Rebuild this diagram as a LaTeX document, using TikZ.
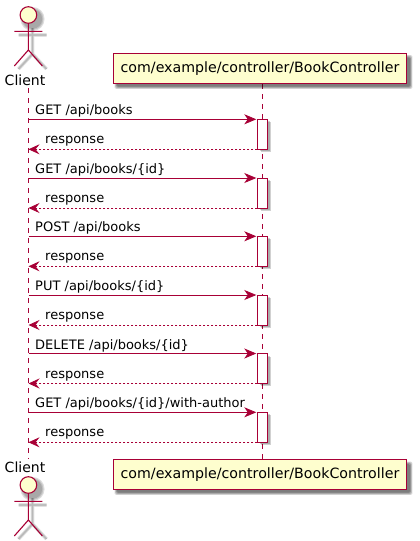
\documentclass[tikz,border=0pt]{standalone}
\usepackage{fontspec}
\setmainfont{DejaVu Sans}
\usetikzlibrary{arrows.meta}
\definecolor{pu}{HTML}{A80036}
\definecolor{yel}{HTML}{FEFECE}
\tikzset{
  x=1pt,y=-1pt,
  lifeline/.style={draw=pu,line width=0.8pt,dash pattern=on 5pt off 5pt},
  partbox/.style={draw=pu,fill=yel,line width=1.1pt,minimum width=293pt,minimum height=30pt,inner sep=0pt,font=\fontsize{14.2}{17}\selectfont,text=black},
  actbox/.style={draw=pu,fill=white,line width=0.9pt,minimum width=10.4pt,inner sep=0pt,outer sep=0pt},
  actorlab/.style={inner sep=0pt,font=\fontsize{14}{17}\selectfont,text=black},
  msglab/.style={inner sep=0pt,anchor=base west,font=\fontsize{13}{15}\selectfont,text=black},
  actorline/.style={draw=pu,line width=1.1pt},
  headfill/.style={fill=yel},
  call/.style={draw=pu,line width=0.8pt,-{Stealth[length=12pt,width=10pt,inset=3.5pt,fill=pu]},shorten >=1pt},
  reply/.style={draw=pu,line width=0.8pt,dash pattern=on 2pt off 2pt,-{Stealth[length=11pt,width=10pt,inset=4pt,fill=pu,line width=0.8pt]}},
}
% soft shadows: stacked translucent layers
\newcommand{\softrect}[4]{%
  \foreach \g in {0,1,2,3}{
    \fill[black,opacity=0.16,rounded corners=1.5pt] ({#1+4-\g*0.8},{#2+4-\g*0.8}) rectangle ({#3+3+\g*0.8},{#4+3+\g*0.8});
  }}
\newcommand{\softactor}[1]{%
  \begin{scope}[shift={(0,#1)}]
  \foreach \w in {3.6,2.4,1.2}{
    \draw[black,opacity=0.1,line width=\w pt] (32.5,28) -- (32.5,55) (18.5,35) -- (46.5,35) (18.5,69) -- (32.5,54) -- (46.5,69);
    \fill[black,opacity=0.13] (32.5,19) circle ({8.5+\w});
  }
  \end{scope}}
\newcommand{\drawactor}[1]{%
  \begin{scope}[shift={(0,#1)}]
  \draw[actorline,headfill] (28.4,15) circle (8.3);
  \draw[actorline] (28.4,23.3) -- (28.4,50) (14.3,31.3) -- (42.4,31.3) (14.3,66) -- (28.4,50) -- (42.4,66);
  \end{scope}}
\begin{document}
\begin{tikzpicture}
\useasboundingbox (0,0) rectangle (420,541);
\fill[white] (0,0) rectangle (420,541);
% coordinates on the lifelines
\coordinate (cltop) at (28.5,88);
\coordinate (clbot) at (28.5,459);
\coordinate (cttop) at (262.5,84);
\coordinate (ctbot) at (262.5,460);
% lifelines
\draw[lifeline] (cltop) -- (clbot);
\draw[lifeline] (cttop) -- (ctbot);
% shadows
\softrect{113}{53.5}{407}{83.5}
\softrect{113}{460}{407}{489.5}
\softactor{0}
\softactor{470}
% actors and participants
\drawactor{0}
\drawactor{470}
\node[actorlab] (clientT) at (25,80.5) {Client};
\node[actorlab] (clientB) at (25,467.5) {Client};
\node[partbox] (ctrlT) at (260,68.5) {com/example/controller/BookController};
\node[partbox] (ctrlB) at (260,474.8) {com/example/controller/BookController};
% messages
\foreach \n/\y/\lab in {1/119.3/{GET /api/books},2/178/{GET /api/books/\{id\}},3/236.3/{POST /api/books},4/295/{PUT /api/books/\{id\}},5/353.5/{DELETE /api/books/\{id\}},6/412.3/{GET /api/books/\{id\}/with-author}}{
  \fill[black,opacity=0.18] (260.5,{\y+3}) rectangle (271,{\y+32.5});
  \fill[black,opacity=0.18] (259.5,{\y+2}) rectangle (270,{\y+31.5});
  \node[actbox,minimum height=30pt] (act\n) at (262.5,{\y+15}) {};
  \coordinate (from\n) at (28.5,\y);
  \coordinate (back\n) at (28.5,{\y+30});
  \draw[call] (from\n) -- (act\n.north west);
  \draw[reply] (act\n.south west) -- (back\n);
  \node[msglab] (msg\n) at (35,{\y-4.5}) {\lab};
  \node[msglab] (res\n) at (45,{\y+24.5}) {response};
}
\end{tikzpicture}
\end{document}
